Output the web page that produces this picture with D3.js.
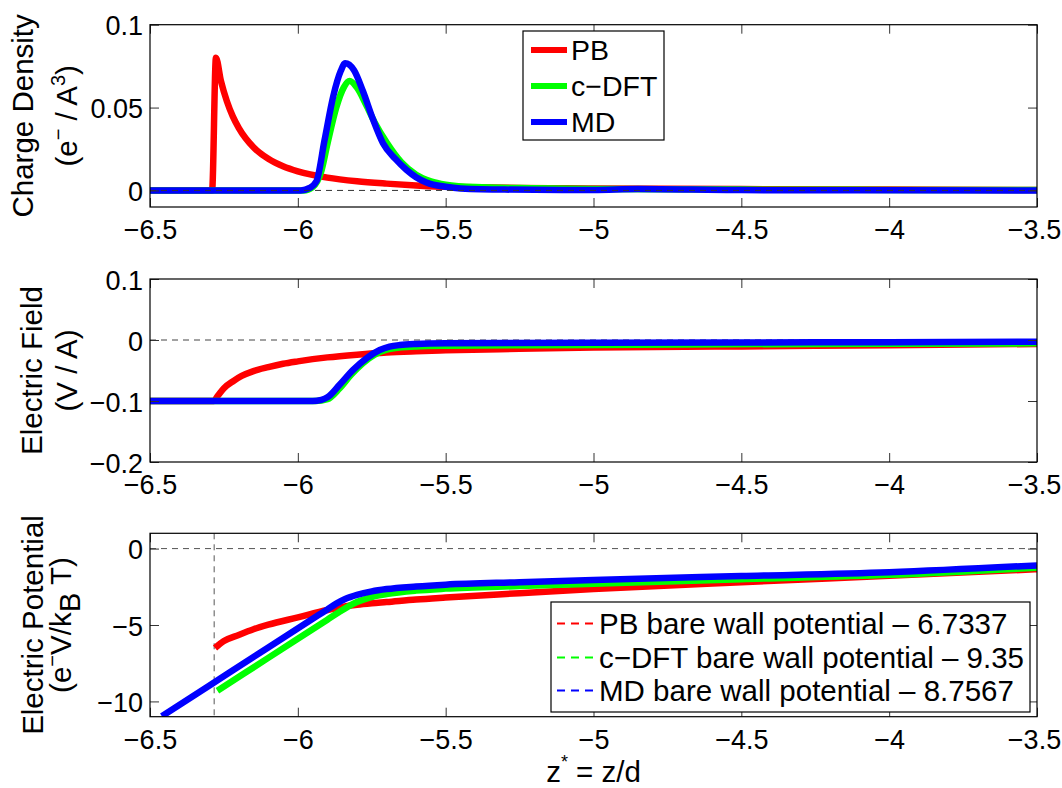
<!DOCTYPE html>
<html>
<head>
<meta charset="utf-8">
<script src="https://cdn.jsdelivr.net/npm/d3@7"></script>
<style>
  html, body { margin: 0; padding: 0; background: #fff; }
  svg { display: block; font-family: "Liberation Sans", Arial, Helvetica, sans-serif; }
</style>
</head>
<body>
<svg id="chart" width="1062" height="788"></svg>
<script>
// ---------- data ----------
const zTicks = [-6.5, -6, -5.5, -5, -4.5, -4, -3.5];
const densityTicks = [0, 0.05, 0.1];
const fieldTicks = [-0.2, -0.1, 0, 0.1];
const potentialTicks = [-10, -5, 0];

const seriesNames = ["PB", "c\u2212DFT", "MD"];
const seriesColors = ["#ff0000", "#00ff00", "#0000ff"];

// Charge density (e- / A^3)
const densityPB_z = [-6.5, -6.29, -6.277, -6.26, -6.24, -6.22, -6.2, -6.15, -6.1, -6.05, -6.0, -5.9, -5.8, -5.7, -5.6, -5.5, -5.0, -4.5, -4.0, -3.5];
const densityPB_v = [0, 0, 0.080, 0.066, 0.0538, 0.0447, 0.0378, 0.0261, 0.0191, 0.0146, 0.0115, 0.0077, 0.0055, 0.0041, 0.003, 0.0022, 0.0012, 0.0008, 0.0005, 0.0003];
const densityDFT_z = [-6.5, -5.98, -5.95, -5.92, -5.9, -5.87, -5.845, -5.825, -5.8, -5.77, -5.74, -5.7, -5.65, -5.6, -5.55, -5.5, -5.4, -5.2, -5.0, -4.5, -4.0, -3.5];
const densityDFT_v = [0, 0, 0.002, 0.012, 0.028, 0.050, 0.062, 0.066, 0.062, 0.052, 0.041, 0.029, 0.017, 0.0095, 0.0055, 0.0035, 0.002, 0.0013, 0.0009, 0.0005, 0.0003, 0.0002];
const densityMD_z = [-6.5, -5.99, -5.96, -5.937, -5.91, -5.88, -5.855, -5.84, -5.81, -5.78, -5.746, -5.712, -5.67, -5.633, -5.6, -5.565, -5.5, -5.45, -5.3, -5.0, -4.85, -4.5, -3.5];
const densityMD_v = [0, 0, 0.0015, 0.0055, 0.030, 0.057, 0.072, 0.0767, 0.0725, 0.060, 0.043, 0.0285, 0.019, 0.0125, 0.008, 0.0048, 0.0022, 0.0012, 0.0005, 0.0003, 0.0008, 0.0002, 0];

// Electric field (V / A)
const fieldPB_z = [-6.5, -6.285, -6.27, -6.25, -6.22, -6.19, -6.15, -6.1, -6.05, -6.0, -5.9, -5.8, -5.7, -5.6, -5.5, -5.25, -5.0, -4.5, -4.0, -3.5];
const fieldPB_v = [-0.1, -0.1, -0.091, -0.079, -0.068, -0.059, -0.051, -0.0445, -0.039, -0.035, -0.0285, -0.024, -0.0205, -0.0185, -0.017, -0.0145, -0.0125, -0.0105, -0.0085, -0.0065];
const fieldDFT_z = [-6.5, -5.94, -5.9, -5.86, -5.82, -5.78, -5.74, -5.7, -5.65, -5.6, -5.5, -5.0, -4.0, -3.5];
const fieldDFT_v = [-0.1, -0.1, -0.097, -0.080, -0.057, -0.038, -0.024, -0.016, -0.012, -0.0105, -0.0095, -0.008, -0.006, -0.0055];
const fieldMD_z = [-6.5, -5.95, -5.92, -5.9, -5.858, -5.813, -5.768, -5.723, -5.69, -5.655, -5.6, -5.5, -5.0, -4.5, -4.0, -3.5];
const fieldMD_v = [-0.1, -0.1, -0.098, -0.094, -0.073, -0.049, -0.030, -0.0165, -0.011, -0.0082, -0.0065, -0.0055, -0.0045, -0.004, -0.0035, -0.003];

// Electric potential (e- V / kB T)
const potentialPB_z = [-6.28, -6.25, -6.2, -6.15, -6.1, -6.0, -5.9, -5.85, -5.8, -5.75, -5.7, -5.6, -5.5, -5.25, -5.0, -4.5, -4.0, -3.5];
const potentialPB_v = [-6.5, -6.05, -5.65, -5.28, -4.98, -4.5, -4.02, -3.82, -3.68, -3.58, -3.5, -3.33, -3.2, -2.92, -2.65, -2.2, -1.78, -1.35];
const potentialDFT_z = [-6.272, -6.1, -5.9, -5.86, -5.83, -5.8, -5.76, -5.7, -5.6, -5.5, -5.25, -5.0, -4.5, -4.0, -3.5];
const potentialDFT_v = [-9.3, -7.15, -4.65, -4.15, -3.8, -3.5, -3.22, -2.98, -2.75, -2.62, -2.45, -2.3, -2.0, -1.72, -1.25];
const potentialMD_z = [-6.46, -6.3, -6.1, -5.93, -5.9, -5.87, -5.84, -5.8, -5.75, -5.7, -5.6, -5.5, -5.25, -5.0, -4.5, -4.0, -3.5];
const potentialMD_v = [-10.97, -8.97, -6.47, -4.35, -3.98, -3.6, -3.3, -3.03, -2.8, -2.65, -2.48, -2.36, -2.2, -2.05, -1.8, -1.55, -1.1];

// bare wall potentials
const wallZ = -6.283;
const bareWallRange = [-6.5, -6.0];
const bareWallValues = [-6.7337, -9.35, -8.7567];
const bareWallLabels = [
  "PB bare wall potential \u2013 6.7337",
  "c\u2212DFT bare wall potential \u2013 9.35",
  "MD bare wall potential \u2013 8.7567"
];

// ---------- layout ----------
const FONT_TICK = 27, FONT_LABEL = 29.5, FONT_LEG = 28.5, FONT_LEG2 = 29.5;
const plotLeft = 150, plotRight = 1037;
const panels = [
  { top: 24.7, bottom: 207, domain: [-0.01, 0.1], ticks: densityTicks,
    series: [[densityPB_z, densityPB_v], [densityDFT_z, densityDFT_v], [densityMD_z, densityMD_v]],
    label1: "Charge Density", l1x: 33, l2x: 77, label2: "density" },
  { top: 279, bottom: 462, domain: [-0.2, 0.1], ticks: fieldTicks,
    series: [[fieldPB_z, fieldPB_v], [fieldDFT_z, fieldDFT_v], [fieldMD_z, fieldMD_v]],
    label1: "Electric Field", l1x: 42, l2x: 77, label2: "field" },
  { top: 533.3, bottom: 716.7, domain: [-11, 1], ticks: potentialTicks,
    series: [[potentialPB_z, potentialPB_v], [potentialDFT_z, potentialDFT_v], [potentialMD_z, potentialMD_v]],
    label1: "Electric Potential", l1x: 42.5, l2x: 71, label2: "potential" }
];

const svg = d3.select("#chart");
const x = d3.scaleLinear().domain([-6.5, -3.5]).range([plotLeft, plotRight]);
const fmt = v => String(v).replace("-", "\u2212");

panels.forEach((p, i) => {
  const y = d3.scaleLinear().domain(p.domain).range([p.bottom, p.top]);
  const g = svg.append("g");
  const clipId = "clip" + i;
  svg.append("clipPath").attr("id", clipId).append("rect")
    .attr("x", plotLeft).attr("y", p.top).attr("width", plotRight - plotLeft).attr("height", p.bottom - p.top);

  const line = d3.line().x(d => x(d[0])).y(d => y(d[1])).curve(d3.curveMonotoneX);

  const plot = g.append("g").attr("clip-path", `url(#${clipId})`);

  if (i === 2) {
    plot.append("line").attr("x1", x(wallZ)).attr("x2", x(wallZ)).attr("y1", p.top).attr("y2", p.bottom)
      .attr("stroke", "#555").attr("stroke-width", 1).attr("stroke-dasharray", "6,5");
    plot.append("line").attr("x1", plotLeft).attr("x2", plotRight).attr("y1", y(0)).attr("y2", y(0))
      .attr("stroke", "#555").attr("stroke-width", 1).attr("stroke-dasharray", "6,5");
    bareWallValues.forEach((v, k) => {
      plot.append("line").attr("x1", x(bareWallRange[0])).attr("x2", x(bareWallRange[1]))
        .attr("y1", y(-v)).attr("y2", y(-v))
        .attr("stroke", seriesColors[k]).attr("stroke-width", 2).attr("stroke-dasharray", "8,6");
    });
  }
  if (i === 1) {
    plot.append("line").attr("x1", plotLeft).attr("x2", plotRight).attr("y1", y(0)).attr("y2", y(0))
      .attr("stroke", "#444").attr("stroke-width", 1).attr("stroke-dasharray", "6,5");
  }

  p.series.forEach((s, k) => {
    const pts = s[0].map((z, j) => [z, s[1][j]]);
    plot.append("path").datum(pts).attr("d", line)
      .attr("fill", "none").attr("stroke", seriesColors[k]).attr("stroke-width", 6.5)
      .attr("stroke-linejoin", "round").attr("stroke-linecap", "butt");
  });

  if (i === 0) {
    plot.append("line").attr("x1", plotLeft).attr("x2", plotRight).attr("y1", y(0)).attr("y2", y(0))
      .attr("stroke", "#333").attr("stroke-width", 1).attr("stroke-dasharray", "6,5");
  }

  const axB = g.append("g").attr("transform", `translate(0,${p.bottom})`)
    .call(d3.axisBottom(x).tickValues(zTicks).tickSize(-9).tickSizeOuter(0).tickPadding(13).tickFormat(fmt));
  const axT = g.append("g").attr("transform", `translate(0,${p.top})`)
    .call(d3.axisTop(x).tickValues(zTicks).tickSize(-9).tickSizeOuter(0).tickFormat(""));
  const axL = g.append("g").attr("transform", `translate(${plotLeft},0)`)
    .call(d3.axisLeft(y).tickValues(p.ticks).tickSize(-9).tickSizeOuter(0).tickPadding(7).tickFormat(fmt));
  const axR = g.append("g").attr("transform", `translate(${plotRight},0)`)
    .call(d3.axisRight(y).tickValues(p.ticks).tickSize(-9).tickSizeOuter(0).tickFormat(""));
  [axB, axT, axL, axR].forEach(a => {
    a.select(".domain").remove();
    a.selectAll(".tick line").attr("stroke", "#333").attr("stroke-width", 1);
    a.selectAll("text").attr("font-size", FONT_TICK).attr("fill", "#000")
      .attr("font-family", '"Liberation Sans", Arial, Helvetica, sans-serif');
  });
  axL.selectAll("text").attr("dy", "0.38em");
  // keep the last x label inside the page edge
  axB.selectAll(".tick text").filter(d => d === -3.5).attr("dx", -3);

  g.append("rect").attr("x", plotLeft).attr("y", p.top).attr("width", plotRight - plotLeft).attr("height", p.bottom - p.top)
    .attr("fill", "none").attr("stroke", "#000").attr("stroke-width", 1.2);

  const cy = (p.top + p.bottom) / 2;
  g.append("text").attr("transform", `translate(${p.l1x},${cy}) rotate(-90)`)
    .attr("text-anchor", "middle").attr("font-size", FONT_LABEL).text(p.label1);
  const t2 = g.append("text").attr("transform", `translate(${p.l2x},${cy}) rotate(-90)`)
    .attr("text-anchor", "middle").attr("font-size", FONT_LABEL);
  if (p.label2 === "density") {
    t2.append("tspan").text("(e");
    t2.append("tspan").attr("font-size", 20).attr("dy", -12).text("\u2212");
    t2.append("tspan").attr("dy", 12).text(" / A");
    t2.append("tspan").attr("font-size", 20).attr("dy", -12).text("3");
    t2.append("tspan").attr("dy", 12).text(")");
  } else if (p.label2 === "field") {
    t2.text("(V / A)");
  } else {
    t2.append("tspan").text("(e");
    t2.append("tspan").attr("font-size", 20).attr("dy", -12).text("\u2212");
    t2.append("tspan").attr("dy", 12).text("V/k");
    t2.append("tspan").attr("dy", 9).text("B");
    t2.append("tspan").attr("dy", -9).text(" T)");
  }
});

// top legend
const leg1 = svg.append("g");
leg1.append("rect").attr("x", 523).attr("y", 31).attr("width", 141).attr("height", 109)
  .attr("fill", "#fff").attr("stroke", "#000").attr("stroke-width", 1.2);
const leg1Rows = [50, 86, 122];
seriesNames.forEach((n, k) => {
  leg1.append("line").attr("x1", 531).attr("x2", 567).attr("y1", leg1Rows[k]).attr("y2", leg1Rows[k])
    .attr("stroke", seriesColors[k]).attr("stroke-width", 6);
  leg1.append("text").attr("x", 571).attr("y", leg1Rows[k]).attr("dy", "0.36em")
    .attr("font-size", FONT_LEG).text(n);
});

// bottom legend
const leg2 = svg.append("g");
leg2.append("rect").attr("x", 551).attr("y", 602).attr("width", 479).attr("height", 110)
  .attr("fill", "#fff").attr("stroke", "#000").attr("stroke-width", 1.2);
const leg2Rows = [623.5, 657.5, 690.5];
bareWallLabels.forEach((n, k) => {
  leg2.append("line").attr("x1", 557).attr("x2", 594).attr("y1", leg2Rows[k]).attr("y2", leg2Rows[k])
    .attr("stroke", seriesColors[k]).attr("stroke-width", 2).attr("stroke-dasharray", "8,6");
  leg2.append("text").attr("x", 599).attr("y", leg2Rows[k]).attr("dy", "0.36em")
    .attr("font-size", FONT_LEG2).text(n);
});

// x label
const xl = svg.append("text").attr("x", x(-5)).attr("y", 782).attr("text-anchor", "middle").attr("font-size", FONT_LABEL);
xl.append("tspan").text("z");
xl.append("tspan").attr("font-size", 18).attr("dy", -14).text("*");
xl.append("tspan").attr("dy", 14).text(" = z/d");
</script>
</body>
</html>
